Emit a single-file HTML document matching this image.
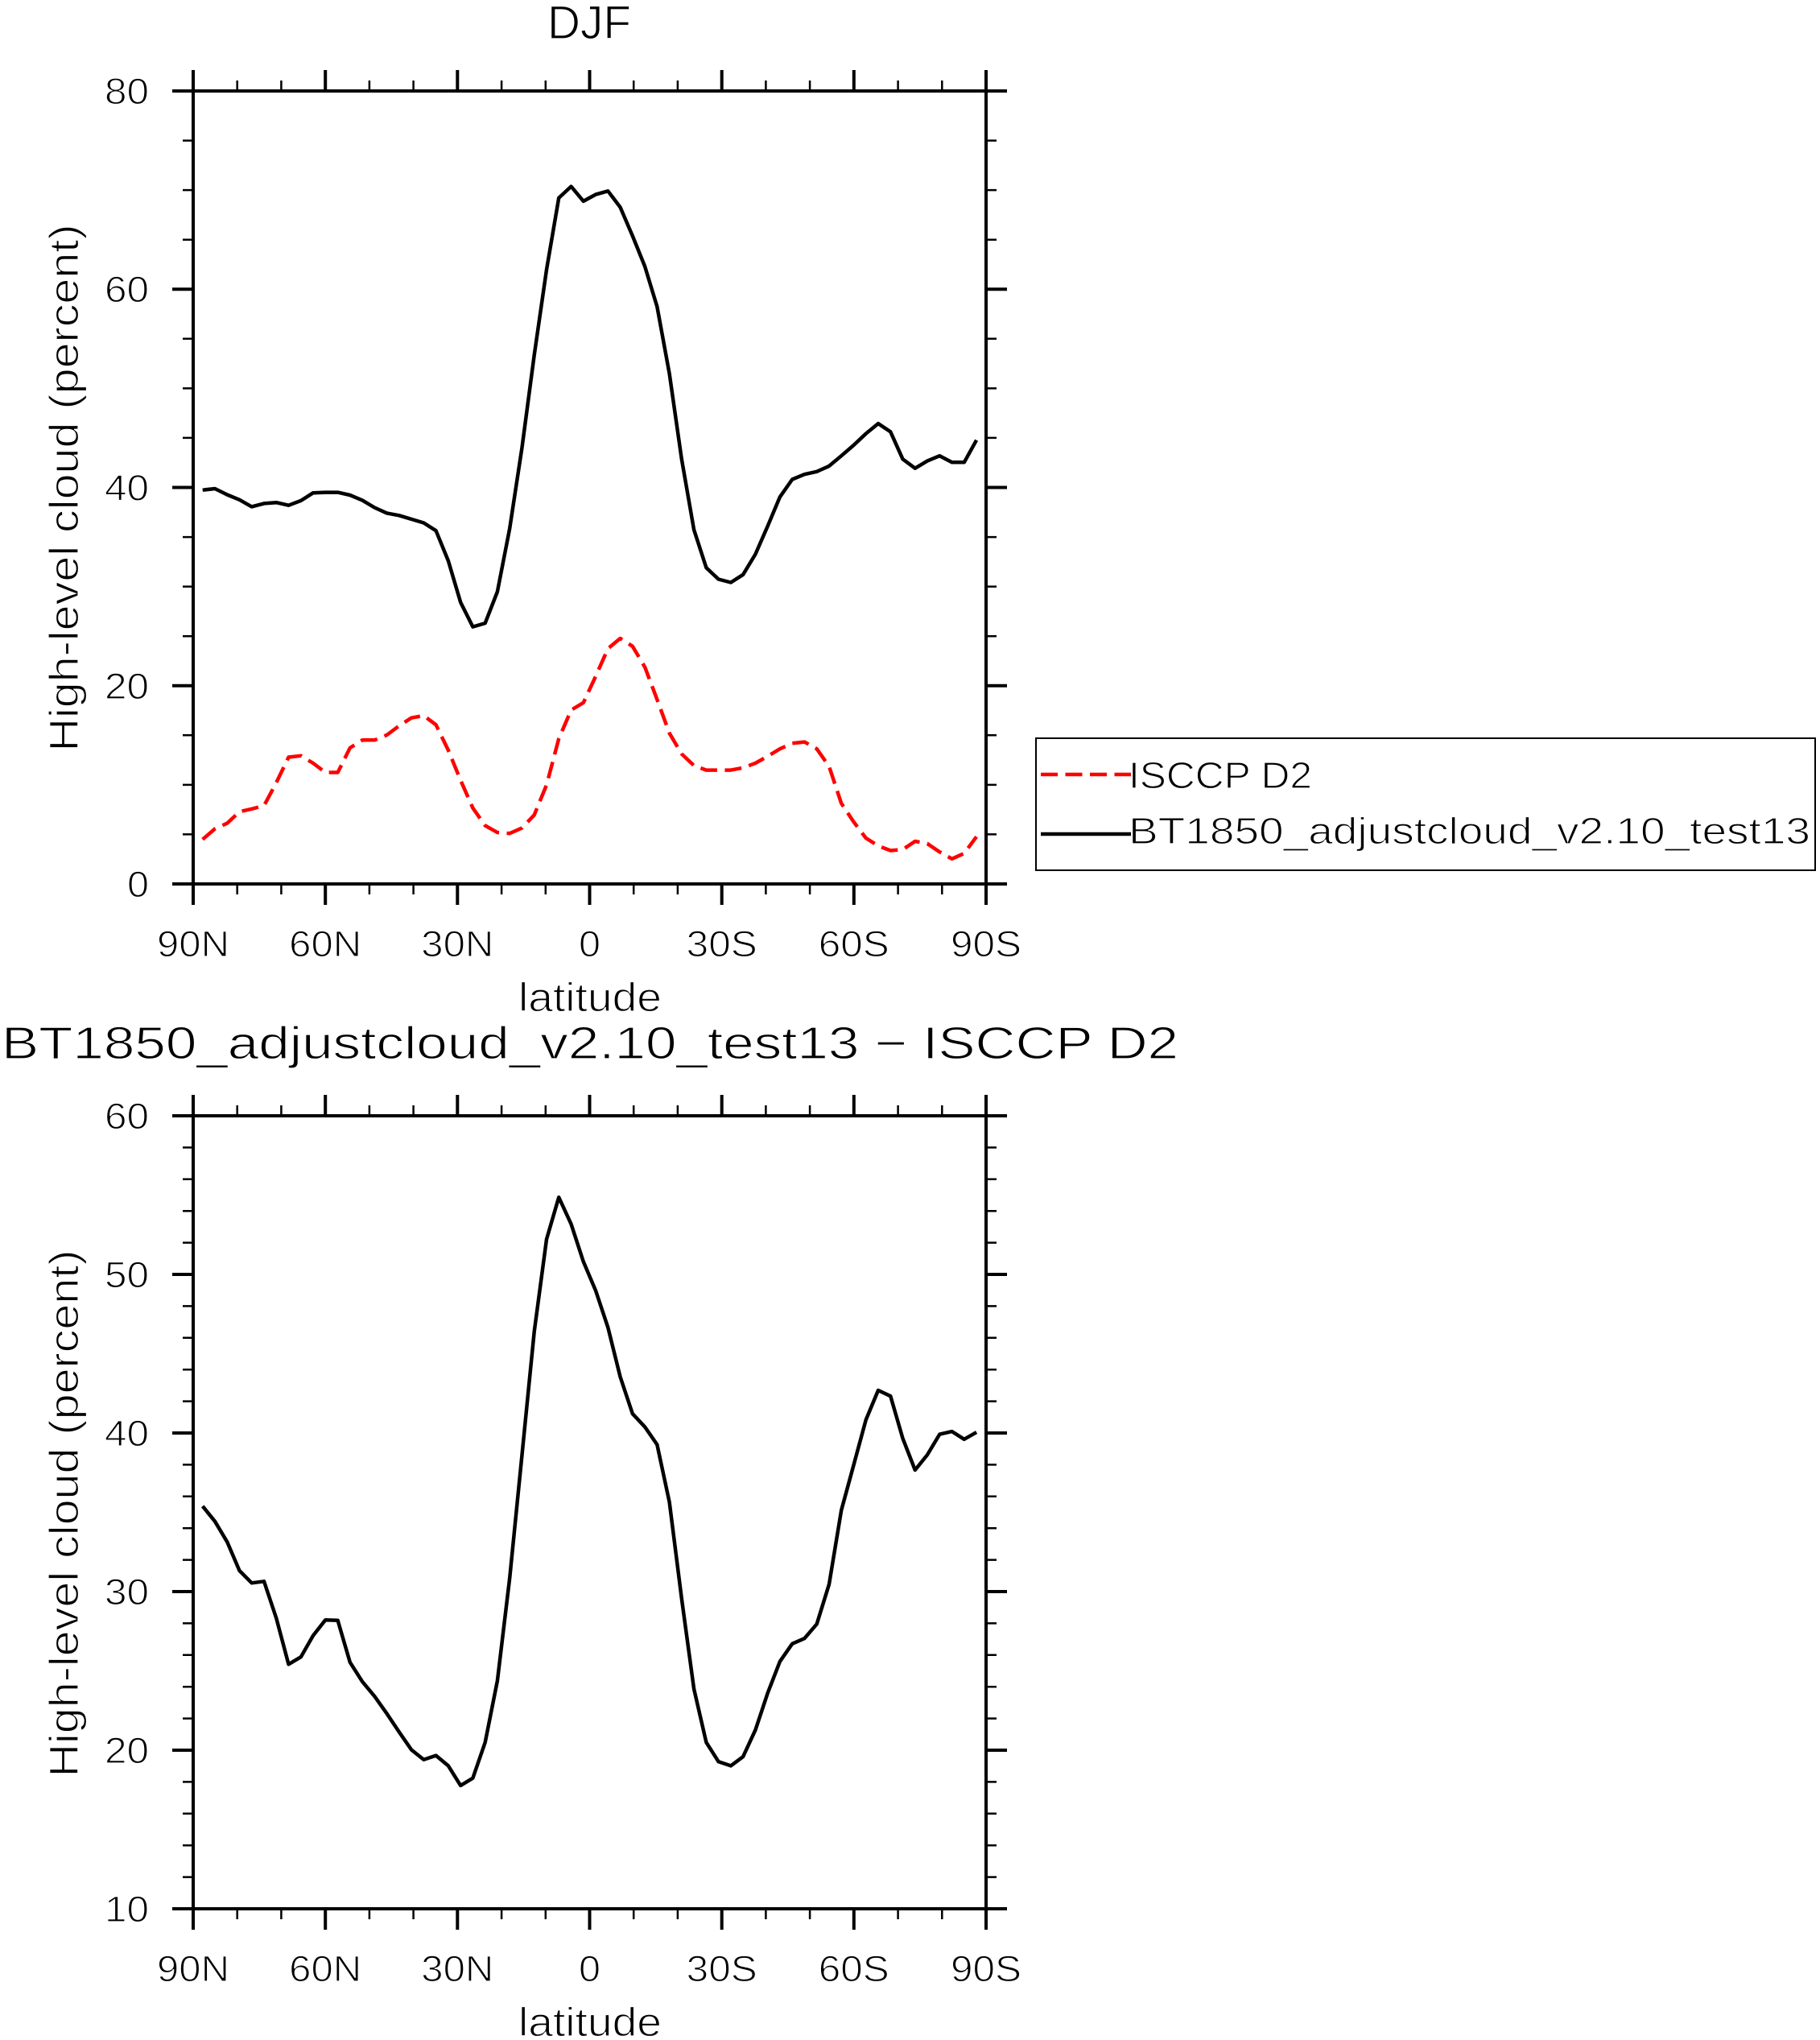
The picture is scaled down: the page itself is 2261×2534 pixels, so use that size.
<!DOCTYPE html>
<html><head><meta charset="utf-8"><style>
html,body{margin:0;padding:0;background:#fff;}
svg{display:block;}
text{font-family:"Liberation Sans",sans-serif;fill:#000;stroke:#fff;stroke-width:1.2px;}
</style></head><body>
<svg xmlns="http://www.w3.org/2000/svg" width="2261" height="2534" viewBox="0 0 2261 2534">
<rect x="0" y="0" width="2261" height="2534" fill="#fff"/>

<!-- ============ TOP PLOT ============ -->
<text x="732" y="48" font-size="58" text-anchor="middle" textLength="104" lengthAdjust="spacingAndGlyphs">DJF</text>

<!-- frame -->
<rect x="240" y="113" width="985" height="985" fill="none" stroke="#000" stroke-width="4"/>
<!-- major ticks -->
<path stroke="#000" stroke-width="4" fill="none" d="
M240,1098v26 M404.2,1098v26 M568.3,1098v26 M732.5,1098v26 M896.7,1098v26 M1060.8,1098v26 M1225,1098v26
M240,113v-26 M404.2,113v-26 M568.3,113v-26 M732.5,113v-26 M896.7,113v-26 M1060.8,113v-26 M1225,113v-26
M240,1098h-26 M240,851.75h-26 M240,605.5h-26 M240,359.25h-26 M240,113h-26
M1225,1098h26 M1225,851.75h26 M1225,605.5h26 M1225,359.25h26 M1225,113h26"/>
<!-- minor ticks -->
<path stroke="#000" stroke-width="2.5" fill="none" d="
M294.7,1098v13 M349.4,1098v13 M458.9,1098v13 M513.6,1098v13 M623.1,1098v13 M677.8,1098v13 M787.2,1098v13 M841.9,1098v13 M951.4,1098v13 M1006.1,1098v13 M1115.6,1098v13 M1170.3,1098v13
M294.7,113v-13 M349.4,113v-13 M458.9,113v-13 M513.6,113v-13 M623.1,113v-13 M677.8,113v-13 M787.2,113v-13 M841.9,113v-13 M951.4,113v-13 M1006.1,113v-13 M1115.6,113v-13 M1170.3,113v-13
M240,1036.4h-13 M240,974.9h-13 M240,913.3h-13 M240,790.2h-13 M240,728.6h-13 M240,667.1h-13 M240,543.9h-13 M240,482.4h-13 M240,420.8h-13 M240,297.7h-13 M240,236.1h-13 M240,174.6h-13
M1225,1036.4h13 M1225,974.9h13 M1225,913.3h13 M1225,790.2h13 M1225,728.6h13 M1225,667.1h13 M1225,543.9h13 M1225,482.4h13 M1225,420.8h13 M1225,297.7h13 M1225,236.1h13 M1225,174.6h13"/>

<!-- y tick labels -->
<g font-size="45" text-anchor="end">
<text x="185" y="129" textLength="55" lengthAdjust="spacingAndGlyphs">80</text>
<text x="185" y="375" textLength="55" lengthAdjust="spacingAndGlyphs">60</text>
<text x="185" y="621.5" textLength="55" lengthAdjust="spacingAndGlyphs">40</text>
<text x="185" y="868" textLength="55" lengthAdjust="spacingAndGlyphs">20</text>
<text x="185" y="1114" textLength="27" lengthAdjust="spacingAndGlyphs">0</text>
</g>
<!-- x tick labels -->
<g font-size="45" text-anchor="middle">
<text x="240" y="1188" textLength="90" lengthAdjust="spacingAndGlyphs">90N</text>
<text x="404.2" y="1188" textLength="90" lengthAdjust="spacingAndGlyphs">60N</text>
<text x="568.3" y="1188" textLength="90" lengthAdjust="spacingAndGlyphs">30N</text>
<text x="732.5" y="1188" textLength="27" lengthAdjust="spacingAndGlyphs">0</text>
<text x="896.7" y="1188" textLength="88" lengthAdjust="spacingAndGlyphs">30S</text>
<text x="1060.8" y="1188" textLength="88" lengthAdjust="spacingAndGlyphs">60S</text>
<text x="1225" y="1188" textLength="88" lengthAdjust="spacingAndGlyphs">90S</text>
</g>
<text x="733" y="1256" font-size="50" text-anchor="middle" textLength="178" lengthAdjust="spacingAndGlyphs">latitude</text>
<text transform="translate(97,606) rotate(-90)" x="0" y="0" font-size="51" text-anchor="middle" textLength="655" lengthAdjust="spacingAndGlyphs">High-level cloud (percent)</text>

<!-- data -->
<polyline fill="none" stroke="#000" stroke-width="4.5" stroke-linejoin="round" points="251.7,608.7 267.0,607.0 282.2,614.5 297.5,620.8 312.7,629.4 328.0,625.4 343.3,624.2 358.5,627.7 373.8,621.9 389.0,612.2 404.3,611.6 419.6,611.6 434.8,615.0 450.1,621.4 465.3,630.5 480.6,637.4 495.9,640.3 511.1,644.9 526.4,649.5 541.6,659.2 556.9,696.6 572.2,748.2 587.4,778.6 602.7,774.1 617.9,735.0 633.2,656.4 648.5,555.9 663.7,441.1 679.0,334.9 694.2,245.9 709.5,231.6 724.8,249.9 740.0,241.6 755.3,237.3 770.5,257.4 785.8,293.0 801.1,330.9 816.3,380.8 831.6,464.1 846.8,570.3 862.1,658.1 877.4,705.2 892.6,719.5 907.9,723.5 923.1,713.8 938.4,688.5 953.7,653.5 968.9,617.3 984.2,595.5 999.4,589.2 1014.7,585.8 1030.0,578.9 1045.2,566.2 1060.5,553.0 1075.7,538.7 1091.0,526.1 1106.3,536.4 1121.5,570.3 1136.8,581.7 1152.0,572.6 1167.3,566.2 1182.6,574.3 1197.8,574.3 1213.1,546.7"/>
<polyline fill="none" stroke="#ff0000" stroke-width="4.5" stroke-dasharray="21 9.5" stroke-linejoin="round" points="251.7,1042.7 267.0,1029.5 282.2,1022.6 297.5,1008.3 312.7,1004.8 328.0,1000.8 343.3,972.1 358.5,940.5 373.8,938.8 389.0,948.0 404.3,959.5 419.6,959.5 434.8,929.0 450.1,919.3 465.3,919.3 480.6,913.0 495.9,901.5 511.1,891.7 526.4,888.9 541.6,900.3 556.9,931.9 572.2,969.2 587.4,1003.7 602.7,1025.5 617.9,1034.1 633.2,1035.2 648.5,1028.4 663.7,1012.3 679.0,975.0 694.2,917.6 709.5,882.0 724.8,872.8 740.0,840.1 755.3,805.6 770.5,793.0 785.8,802.8 801.1,828.6 816.3,868.8 831.6,910.7 846.8,936.5 862.1,950.9 877.4,956.6 892.6,956.6 907.9,956.6 923.1,953.7 938.4,948.0 953.7,939.4 968.9,930.2 984.2,923.3 999.4,921.6 1014.7,930.2 1030.0,952.0 1045.2,997.9 1060.5,1020.9 1075.7,1041.0 1091.0,1050.7 1106.3,1056.5 1121.5,1055.3 1136.8,1045.0 1152.0,1047.9 1167.3,1058.2 1182.6,1066.8 1197.8,1060.0 1213.1,1039.3"/>

<!-- legend -->
<rect x="1287" y="917" width="968" height="164" fill="none" stroke="#000" stroke-width="2"/>
<line x1="1293" y1="962" x2="1405" y2="962" stroke="#ff0000" stroke-width="4.5" stroke-dasharray="21 9.5"/>
<line x1="1293" y1="1036" x2="1405" y2="1036" stroke="#000" stroke-width="4.5"/>
<text x="1402" y="979" font-size="46" textLength="228" lengthAdjust="spacingAndGlyphs">ISCCP D2</text>
<text x="1402" y="1048" font-size="46" textLength="847" lengthAdjust="spacingAndGlyphs">BT1850_adjustcloud_v2.10_test13</text>

<!-- ============ BOTTOM PLOT ============ -->
<text x="733" y="1315" font-size="57" text-anchor="middle" textLength="1462" lengthAdjust="spacingAndGlyphs">BT1850_adjustcloud_v2.10_test13 − ISCCP D2</text>

<rect x="240" y="1386" width="985" height="985" fill="none" stroke="#000" stroke-width="4"/>
<path stroke="#000" stroke-width="4" fill="none" d="
M240,2371v26 M404.2,2371v26 M568.3,2371v26 M732.5,2371v26 M896.7,2371v26 M1060.8,2371v26 M1225,2371v26
M240,1386v-26 M404.2,1386v-26 M568.3,1386v-26 M732.5,1386v-26 M896.7,1386v-26 M1060.8,1386v-26 M1225,1386v-26
M240,2371h-26 M240,2174h-26 M240,1977h-26 M240,1780h-26 M240,1583h-26 M240,1386h-26
M1225,2371h26 M1225,2174h26 M1225,1977h26 M1225,1780h26 M1225,1583h26 M1225,1386h26"/>
<path stroke="#000" stroke-width="2.5" fill="none" d="
M294.7,2371v13 M349.4,2371v13 M458.9,2371v13 M513.6,2371v13 M623.1,2371v13 M677.8,2371v13 M787.2,2371v13 M841.9,2371v13 M951.4,2371v13 M1006.1,2371v13 M1115.6,2371v13 M1170.3,2371v13
M294.7,1386v-13 M349.4,1386v-13 M458.9,1386v-13 M513.6,1386v-13 M623.1,1386v-13 M677.8,1386v-13 M787.2,1386v-13 M841.9,1386v-13 M951.4,1386v-13 M1006.1,1386v-13 M1115.6,1386v-13 M1170.3,1386v-13
M240,2331.6h-13 M240,2292.2h-13 M240,2252.8h-13 M240,2213.4h-13 M240,2134.6h-13 M240,2095.2h-13 M240,2055.8h-13 M240,2016.4h-13 M240,1937.6h-13 M240,1898.2h-13 M240,1858.8h-13 M240,1819.4h-13 M240,1740.6h-13 M240,1701.2h-13 M240,1661.8h-13 M240,1622.4h-13 M240,1543.6h-13 M240,1504.2h-13 M240,1464.8h-13 M240,1425.4h-13
M1225,2331.6h13 M1225,2292.2h13 M1225,2252.8h13 M1225,2213.4h13 M1225,2134.6h13 M1225,2095.2h13 M1225,2055.8h13 M1225,2016.4h13 M1225,1937.6h13 M1225,1898.2h13 M1225,1858.8h13 M1225,1819.4h13 M1225,1740.6h13 M1225,1701.2h13 M1225,1661.8h13 M1225,1622.4h13 M1225,1543.6h13 M1225,1504.2h13 M1225,1464.8h13 M1225,1425.4h13"/>

<g font-size="45" text-anchor="end">
<text x="185" y="1402" textLength="55" lengthAdjust="spacingAndGlyphs">60</text>
<text x="185" y="1599" textLength="55" lengthAdjust="spacingAndGlyphs">50</text>
<text x="185" y="1796" textLength="55" lengthAdjust="spacingAndGlyphs">40</text>
<text x="185" y="1993" textLength="55" lengthAdjust="spacingAndGlyphs">30</text>
<text x="185" y="2190" textLength="55" lengthAdjust="spacingAndGlyphs">20</text>
<text x="185" y="2387" textLength="55" lengthAdjust="spacingAndGlyphs">10</text>
</g>
<g font-size="45" text-anchor="middle">
<text x="240" y="2461" textLength="90" lengthAdjust="spacingAndGlyphs">90N</text>
<text x="404.2" y="2461" textLength="90" lengthAdjust="spacingAndGlyphs">60N</text>
<text x="568.3" y="2461" textLength="90" lengthAdjust="spacingAndGlyphs">30N</text>
<text x="732.5" y="2461" textLength="27" lengthAdjust="spacingAndGlyphs">0</text>
<text x="896.7" y="2461" textLength="88" lengthAdjust="spacingAndGlyphs">30S</text>
<text x="1060.8" y="2461" textLength="88" lengthAdjust="spacingAndGlyphs">60S</text>
<text x="1225" y="2461" textLength="88" lengthAdjust="spacingAndGlyphs">90S</text>
</g>
<text x="733" y="2529" font-size="50" text-anchor="middle" textLength="178" lengthAdjust="spacingAndGlyphs">latitude</text>
<text transform="translate(97,1880) rotate(-90)" x="0" y="0" font-size="51" text-anchor="middle" textLength="655" lengthAdjust="spacingAndGlyphs">High-level cloud (percent)</text>

<polyline fill="none" stroke="#000" stroke-width="4.5" stroke-linejoin="round" points="251.7,1870.9 267.0,1889.8 282.2,1915.3 297.5,1951.0 312.7,1966.3 328.0,1964.3 343.3,2010.2 358.5,2067.3 373.8,2058.2 389.0,2031.6 404.3,2012.2 419.6,2012.8 434.8,2064.8 450.1,2088.8 465.3,2107.1 480.6,2128.6 495.9,2151.5 511.1,2173.5 526.4,2185.7 541.6,2180.6 556.9,2193.4 572.2,2217.9 587.4,2208.7 602.7,2164.3 617.9,2087.8 633.2,1960.2 648.5,1807.1 663.7,1654.1 679.0,1539.3 694.2,1487.2 709.5,1520.4 724.8,1567.3 740.0,1603.1 755.3,1649.0 770.5,1710.2 785.8,1756.1 801.1,1772.4 816.3,1794.4 831.6,1865.8 846.8,1985.7 862.1,2098.0 877.4,2164.3 892.6,2188.3 907.9,2193.4 923.1,2182.1 938.4,2149.0 953.7,2103.1 968.9,2063.8 984.2,2041.8 999.4,2035.2 1014.7,2017.3 1030.0,1967.9 1045.2,1876.0 1060.5,1819.9 1075.7,1763.8 1091.0,1727.0 1106.3,1734.2 1121.5,1786.7 1136.8,1826.0 1152.0,1807.1 1167.3,1781.6 1182.6,1778.1 1197.8,1787.8 1213.1,1779.1"/>
</svg>
</body></html>
